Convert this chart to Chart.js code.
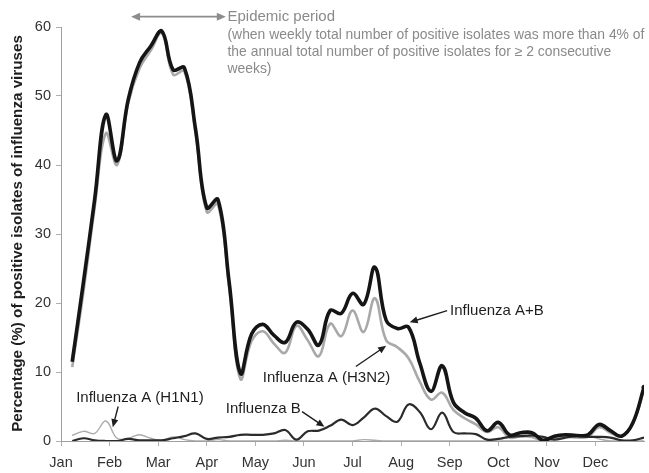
<!DOCTYPE html>
<html>
<head>
<meta charset="utf-8">
<script src="https://cdn.jsdelivr.net/npm/chart.js@4.4.1/dist/chart.umd.min.js"></script>
<style>
html,body{margin:0;padding:0;background:#fff}
#wrap{width:649px;height:473px;position:relative}
</style>
</head>
<body>
<div id="wrap"><canvas id="c"></canvas></div>
<script>
// ---- data (weekly, week 1..52) ----
const weeks = [1,2,3,4,5,6,7,8,9,10,11,12,13,14,15,16,17,18,19,20,21,22,23,24,25,26,
               27,28,29,30,31,32,33,34,35,36,37,38,39,40,41,42,43,44,45,46,47,48,49,50,51,52];
const monthLabels = ["Jan","Feb","Mar","Apr","May","Jun","Jul","Aug","Sep","Oct","Nov","Dec"];
const yTicks = [0,10,20,30,40,50,60];

const fluAB = [11.5,23.0,35.0,47.3,40.6,49.5,54.8,57.2,59.4,53.8,54.1,45.2,33.8,35.0,23.0,9.8,
               15.5,16.9,15.3,14.3,17.2,16.2,13.9,18.9,18.5,21.4,19.8,25.2,17.5,16.3,16.5,11.3,
               7.2,10.9,5.6,4.1,3.3,1.5,2.7,0.9,1.2,1.2,0.1,0.7,0.9,0.8,0.9,2.4,1.5,0.7,2.6,7.8];
const fluH3N2 = [10.7,21.6,33.8,44.6,40.0,49.0,54.0,56.6,59.1,53.1,53.6,44.6,33.2,34.3,22.2,9.0,
               14.5,15.9,14.1,12.8,16.7,14.6,12.3,17.0,15.2,18.9,15.8,20.7,14.6,13.6,12.0,8.6,
               6.0,7.0,4.5,3.3,2.4,1.3,2.0,0.5,0.7,0.6,0.0,0.3,0.6,0.5,0.6,2.0,1.2,0.7,2.5,7.4];
const fluH1N1 = [0.8,1.4,1.1,2.9,0.4,0.4,0.9,0.4,0.1,0.6,0.2,0.0,0.0,0.2,0.0,0.0,
               0.0,0.0,0.0,0.1,0.0,0.0,0.0,0.0,0.0,0.0,0.2,0.1,0.0,0.0,0.0,0.0,
               0.0,0.0,0.0,0.0,0.0,0.0,0.0,0.0,0.0,0.0,0.0,0.3,0.7,0.9,0.8,0.3,0.0,0.0,0.0,0.0];
const fluB = [0.0,0.4,0.1,0.0,0.0,0.3,0.1,0.1,0.1,0.4,0.7,1.1,0.3,0.5,0.6,0.9,
               0.9,0.9,1.1,1.6,0.2,1.4,1.5,2.2,3.1,2.3,3.4,4.7,3.6,2.8,5.3,4.2,
               1.7,4.1,1.3,1.1,1.0,0.2,0.3,0.6,0.7,0.8,0.6,0.2,0.5,0.7,0.6,0.6,0.5,0.1,0.1,0.5];

const FONT = '"Liberation Sans", Arial, sans-serif';
const pts = arr => weeks.map((w,i)=>({x:w, y:arr[i]}));
const weeksPerMonth = weeks.length / monthLabels.length;

function drawArrow(ctx, x1, y1, x2, y2, color, lw, hl, hw, both){
  ctx.strokeStyle = color; ctx.fillStyle = color; ctx.lineWidth = lw;
  const a = Math.atan2(y2-y1, x2-x1);
  const head = (x, y, ang) => {
    ctx.beginPath();
    ctx.moveTo(x, y);
    ctx.lineTo(x - hl*Math.cos(ang) + hw*Math.sin(ang), y - hl*Math.sin(ang) - hw*Math.cos(ang));
    ctx.lineTo(x - hl*Math.cos(ang) - hw*Math.sin(ang), y - hl*Math.sin(ang) + hw*Math.cos(ang));
    ctx.closePath(); ctx.fill();
  };
  ctx.beginPath();
  const sx = both ? x1 + (hl-1)*Math.cos(a) : x1, sy = both ? y1 + (hl-1)*Math.sin(a) : y1;
  ctx.moveTo(sx, sy);
  ctx.lineTo(x2 - (hl-1)*Math.cos(a), y2 - (hl-1)*Math.sin(a));
  ctx.stroke();
  head(x2, y2, a);
  if (both) head(x1, y1, a + Math.PI);
}

const annotations = {
  id: 'annotations',
  afterDraw(chart){
    const {ctx, chartArea, scales:{x, y}} = chart;
    const P = (w, v) => [x.getPixelForValue(w), y.getPixelForValue(v)];
    ctx.save();
    // y axis title, sized to span the axis like the original
    ctx.save();
    ctx.translate(chartArea.left - 43, (chartArea.top + chartArea.bottom)/2 - 0.5);
    ctx.rotate(-Math.PI/2);
    const title = 'Percentage (%) of positive isolates of influenza viruses';
    ctx.font = 'bold 14px ' + FONT;
    const fs = 14 * 397 / ctx.measureText(title).width;
    ctx.font = 'bold ' + fs.toFixed(2) + 'px ' + FONT;
    ctx.fillStyle = '#1e1e1e';
    ctx.textAlign = 'center'; ctx.textBaseline = 'middle';
    ctx.fillText(title, 0, 0);
    ctx.restore();

    // epidemic period
    let [ax1, ay] = P(6.25, 61.5), [ax2] = P(14.7, 61.5);
    drawArrow(ctx, ax1, ay, ax2, ay, '#8c8c8c', 1.6, 9, 4, true);
    ctx.fillStyle = '#8a8a8a';
    ctx.textAlign = 'left'; ctx.textBaseline = 'alphabetic';
    ctx.font = '15px ' + FONT;
    let [tx, ty] = P(14.85, 60.8);
    ctx.fillText('Epidemic period', tx, ty);
    ctx.font = '13.9px ' + FONT;
    ctx.fillText('(when weekly total number of positive isolates was more than 4% of', tx, P(0, 58.2)[1]);
    ctx.fillText('the annual total number of positive isolates for \u2265 2 consecutive', tx, P(0, 55.8)[1]);
    ctx.fillText('weeks)', tx, P(0, 53.4)[1]);

    // series labels
    ctx.font = '15px ' + FONT;
    ctx.fillStyle = '#1e1e1e';
    const lab = (t, w, v) => { const [px, py] = P(w, v); ctx.fillText(t, px, py); };
    lab('Influenza A+B', 34.7, 18.3);
    lab('Influenza A (H3N2)', 18.0, 8.5);
    lab('Influenza A (H1N1)', 1.35, 5.65);
    lab('Influenza B', 14.7, 4.0);

    const arr = (w1, v1, w2, v2) => {
      const [x1, y1] = P(w1, v1), [x2, y2] = P(w2, v2);
      drawArrow(ctx, x1, y1, x2, y2, '#1e1e1e', 1.4, 8, 3.5, false);
    };
    arr(34.44, 18.9, 31.1, 17.2);
    arr(26.3, 10.8, 29.0, 13.8);
    arr(5.1, 5.0, 4.62, 2.0);
    arr(21.5, 4.25, 23.5, 2.05);
    ctx.restore();
  }
};

new Chart(document.getElementById('c'), {
  type: 'line',
  data: {
    datasets: [
      { label: 'Influenza A+B', data: pts(fluAB), borderColor: '#151515', borderWidth: 3.6,
        tension: 0.4, pointRadius: fluAB.map((_,i)=> i === fluAB.length-1 ? 2.5 : 0),
        pointBackgroundColor: '#151515', pointBorderWidth: 0, fill: false },
      { label: 'Influenza B', data: pts(fluB), borderColor: '#2b2b2b', borderWidth: 2.2,
        tension: 0.4, pointRadius: 0, fill: false },
      { label: 'Influenza A (H3N2)', data: pts(fluH3N2), borderColor: '#a9a9a9', borderWidth: 2.6,
        tension: 0.4, pointRadius: 0, fill: false },
      { label: 'Influenza A (H1N1)', data: pts(fluH1N1), borderColor: '#ababab', borderWidth: 1.4,
        tension: 0.4, pointRadius: 0, fill: false }
    ]
  },
  options: {
    responsive: true,
    maintainAspectRatio: false,
    animation: false,
    layout: { padding: { top: 27, right: 5, left: 0, bottom: 0 } },
    plugins: { legend: { display: false }, tooltip: { enabled: false } },
    scales: {
      x: {
        type: 'linear', min: 0, max: weeks.length,
        afterBuildTicks: s => { s.ticks = monthLabels.map((_, i) => ({ value: i * weeksPerMonth })); },
        afterFit: s => { s.height = 32; },
        ticks: {
          autoSkip: false, maxRotation: 0, padding: 8, color: '#333',
          font: { family: FONT, size: 14.5 },
          callback: (v, i) => monthLabels[i]
        },
        grid: { drawOnChartArea: false, drawTicks: true, tickLength: 5, color: '#b0b0b0' },
        border: { color: '#a0a0a0', width: 1 }
      },
      y: {
        min: 0, max: 60,
        afterBuildTicks: s => { s.ticks = yTicks.map(v => ({ value: v })); },
        afterFit: s => { s.width = 61; },
        ticks: { padding: 5, color: '#333', font: { family: FONT, size: 14.5 } },
        grid: { drawOnChartArea: false, drawTicks: true, tickLength: 5, color: '#b0b0b0' },
        border: { color: '#a0a0a0', width: 1 }
      }
    }
  },
  plugins: [annotations]
});
</script>
</body>
</html>
